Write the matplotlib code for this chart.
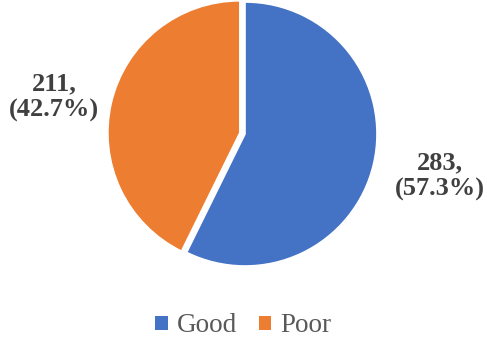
import matplotlib
matplotlib.use("Agg")
import matplotlib.pyplot as plt
from matplotlib.patches import Patch

plt.rcParams["font.family"] = ["Liberation Serif", "DejaVu Serif"]

categories = ["Good", "Poor"]
counts = [283, 211]
percents = [57.3, 42.7]
colors = ["#4472C4", "#ED7D31"]

W, H = 487, 342
R = 132.0
cx, cy = 245.0, 134.0

fig = plt.figure(figsize=(W / 100, H / 100), dpi=100)
ax = fig.add_axes([0, 0, 1, 1])
ax.axis("off")

wedges, _ = ax.pie(counts, colors=colors, startangle=90, counterclock=False,
                   radius=1.0, explode=[0, 0.04],
                   wedgeprops=dict(edgecolor="white", linewidth=1.2))
ax.set_xlim(-cx / R, (W - cx) / R)
ax.set_ylim(-(H - cy) / R, cy / R)

label_pos = [(440, 176), (54, 97)]
for (px, py), n, p in zip(label_pos, counts, percents):
    ax.text((px - cx) / R, (cy - py) / R, f"{n},\n({p}%)", ha="center", va="center",
            fontsize=19, fontweight="bold", color="#404040",
            linespacing=1.15)

handles = [Patch(facecolor=c, edgecolor="none") for c in colors]
leg = fig.legend(handles, categories, loc="center", bbox_to_anchor=(0.5, 1 - 326 / H),
                 ncol=2, frameon=False, fontsize=19.5,
                 handlelength=0.45, handleheight=0.45, handletextpad=0.35,
                 columnspacing=0.8, borderaxespad=0)
for t in leg.get_texts():
    t.set_color("#595959")

fig.savefig("out.png", dpi=100)
